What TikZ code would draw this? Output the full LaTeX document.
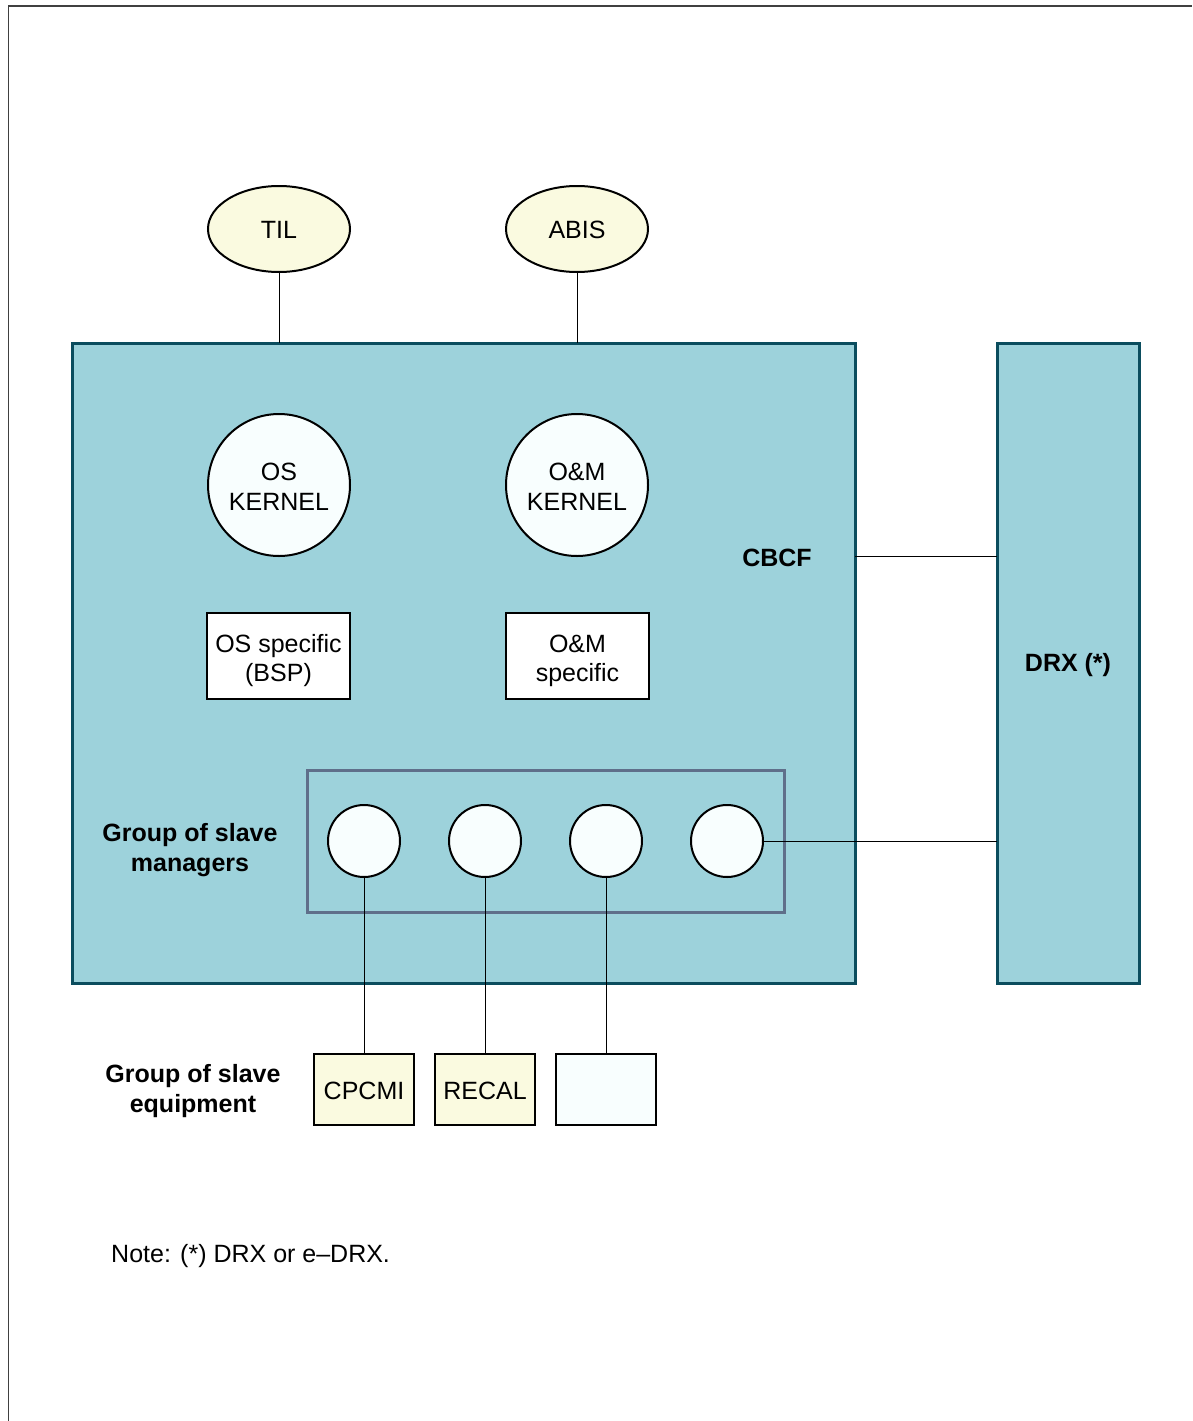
\documentclass[tikz,border=0pt]{standalone}
\usepackage{fontspec}
\setmainfont{Liberation Sans}
\usetikzlibrary{shapes.geometric}
\definecolor{boxfill}{HTML}{9DD2DB}
\definecolor{boxedge}{HTML}{0B4D5E}
\definecolor{yel}{HTML}{FAFAE0}
\definecolor{wht}{HTML}{F8FEFE}
\definecolor{grp}{HTML}{5F6F8A}
\tikzset{
  x=1pt, y=-1pt,
  every node/.style={font=\fontsize{25}{30}\selectfont, align=center, inner sep=0pt},
  bigbox/.style={draw=boxedge, fill=boxfill, line width=3pt, outer sep=0pt},
  oval/.style={ellipse, draw=black, fill=yel, line width=2pt, minimum width=142pt, minimum height=86pt},
  kern/.style={circle, draw=black, fill=wht, line width=2pt, minimum size=142pt},
  spec/.style={rectangle, draw=black, fill=white, line width=2pt, minimum width=143pt, minimum height=86pt},
  slave/.style={circle, draw=black, fill=wht, line width=2pt, minimum size=72pt},
  equip/.style={rectangle, draw=black, line width=2pt, minimum width=100pt, minimum height=71pt},
  conn/.style={draw=black, line width=1pt},
  lbl/.style={font=\fontsize{25}{30}\selectfont\bfseries}
}
\begin{document}
\begin{tikzpicture}
\useasboundingbox (0,0) rectangle (1192,1421);
\draw[line width=1.5pt, black!75] (8.5,1421) -- (8.5,6) -- (1192,6);
% main boxes
\node[bigbox, minimum width=783pt, minimum height=640pt, anchor=north west] (cbcf) at (72,343) {};
\node[bigbox, minimum width=142pt, minimum height=640pt, anchor=north west] (drx) at (997,343) {};
\node[lbl] (cbcflbl) at (777,558) {CBCF};
\node[lbl] (drxlbl) at (1068,665) {DRX (*)};
% top ovals
\node[oval] (til) at (279,229) {};
\node (tiltxt) at (279,230) {TIL};
\node[oval] (abis) at (577,229) {};
\node (abistxt) at (577,230) {ABIS};
\draw[conn] (til.south) -- (til.south |- cbcf.north);
\draw[conn] (abis.south) -- (abis.south |- cbcf.north);
% kernels
\node[kern] (osk) at (279,485) {};
\node (osktxt) at (279,487) {OS\\KERNEL};
\node[kern] (omk) at (577,485) {};
\node (omktxt) at (577,487) {O\&M\\KERNEL};
\node[spec] (oss) at (278.5,656) {};
\node (osstxt) at (278.5,661) {OS specific\\[-1pt](BSP)};
\node[spec] (oms) at (577.5,656) {};
\node (omstxt) at (577.5,661) {O\&M\\[-1pt]specific};
% CBCF-DRX link
\coordinate (c1) at (855,556);
\draw[conn] (c1) -- (c1 -| drx.west);
% group of slave managers
\node[draw=grp, line width=3pt, outer sep=0pt, minimum width=477pt, minimum height=142pt, anchor=north west] (grpbox) at (307,770) {};
\node[lbl] (gsm) at (190,850) {Group of slave\\managers};
\node[slave] (s1) at (364,841) {};
\node[slave] (s2) at (485,841) {};
\node[slave] (s3) at (606,841) {};
\node[slave] (s4) at (727,841) {};
\draw[conn] (s4.east) -- (s4.east -| drx.west);
% slave equipment
\node[equip, fill=yel] (cpcmi) at (364,1089.5) {};
\node (cpcmitxt) at (364,1090.5) {CPCMI};
\node[equip, fill=yel] (recal) at (485,1089.5) {};
\node (recaltxt) at (485,1090.5) {RECAL};
\node[equip, fill=wht] (e3) at (606,1089.5) {};
\draw[conn] (s1.south) -- (cpcmi.north);
\draw[conn] (s2.south) -- (recal.north);
\draw[conn] (s3.south) -- (e3.north);
\node[lbl] (gse) at (193,1091) {Group of slave\\equipment};
\node[anchor=west] (note) at (111,1256) {Note: (*) DRX or e--DRX.};
\end{tikzpicture}
\end{document}
